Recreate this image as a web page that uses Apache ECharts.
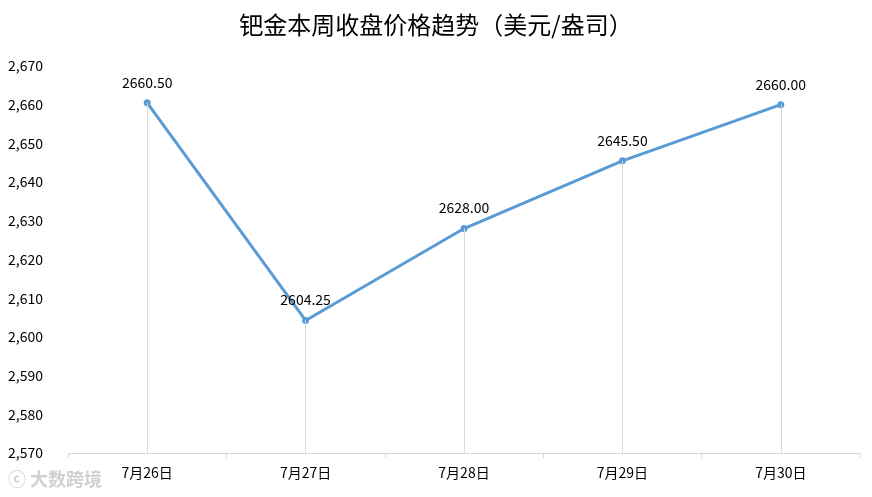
<!DOCTYPE html>
<html><head><meta charset="utf-8">
<script src="https://cdn.jsdelivr.net/npm/echarts@6/dist/echarts.min.js"></script>
<style>html,body{margin:0;padding:0;background:#fff}#c{width:872px;height:497px}</style>
</head><body><div id="c"></div>
<script>
var categories = ['7月26日','7月27日','7月28日','7月29日','7月30日'];
var prices = [2660.50, 2604.25, 2628.00, 2645.50, 2660.00];
var yMin = 2570, yMax = 2670, yStep = 10;
var titleText = '钯金本周收盘价格趋势（美元/盎司）';

var font = '"Noto Sans CJK SC", "Noto Sans", sans-serif';
var chart = echarts.init(document.getElementById('c'));
chart.setOption({
  animation: false,
  title: {text: titleText, left: 'center', top: 8,
    textStyle: {fontFamily: font, fontSize: 24, fontWeight: 'normal', color: '#000'}},
  grid: {left: 68, right: 12, top: 66, bottom: 44, containLabel: false},
  xAxis: {type: 'category', data: categories, boundaryGap: true,
    axisLine: {lineStyle: {color: '#d9d9d9'}},
    axisTick: {show: true, length: 5, lineStyle: {color: '#d9d9d9'}},
    axisLabel: {fontFamily: font, fontSize: 14, color: '#000', margin: 13}},
  yAxis: {type: 'value', min: yMin, max: yMax, interval: yStep,
    axisLine: {show: false}, axisTick: {show: false}, splitLine: {show: false},
    axisLabel: {fontFamily: font, fontSize: 14, color: '#000', align: 'left', margin: 60,
      formatter: function(v){return v.toLocaleString('en-US');}}},
  series: [{
    type: 'line', data: prices, symbol: 'circle', symbolSize: 7,
    lineStyle: {color: '#5B9BD5', width: 3}, itemStyle: {color: '#5B9BD5'},
    label: {show: true, position: 'top', distance: 10, fontFamily: font, fontSize: 14, color: '#000',
      formatter: function(p){return p.value.toFixed(2);}},
    markLine: {silent: true, symbol: 'none', label: {show: false},
      lineStyle: {color: '#d9d9d9', width: 1, type: 'solid'},
      data: categories.map(function(c, i){return [{coord: [c, yMin]}, {coord: [c, prices[i]]}];})},
    z: 3
  }],
  graphic: [{type: 'text', left: 8, top: 470,
    style: {text: 'ⓒ 大数跨境', fill: '#d0d0d0', font: 'bold 18px ' + font}}]
});
</script></body></html>
